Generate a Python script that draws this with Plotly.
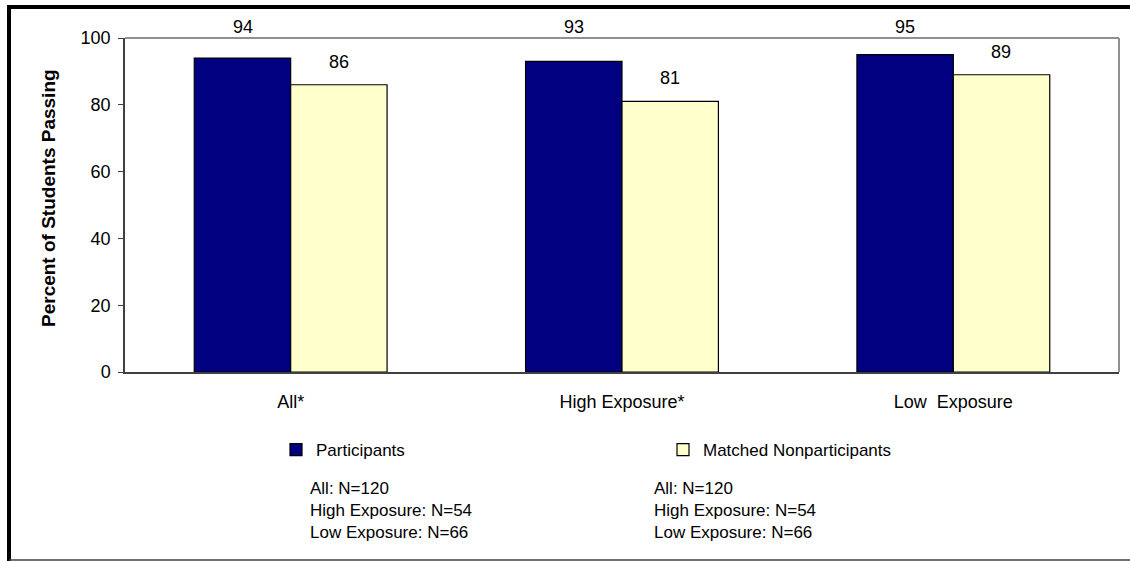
import plotly.graph_objects as go

categories = ["All*", "High Exposure*", "Low  Exposure"]
participants = [94, 93, 95]
nonparticipants = [86, 81, 89]
y_ticks = [0, 20, 40, 60, 80, 100]
n_lines = ["All: N=120", "High Exposure: N=54", "Low Exposure: N=66"]

FONT = "Arial, Liberation Sans, sans-serif"

W, H = 1130, 561
ML, MR, MT, MB = 125, 11, 38, 189
PW = W - ML - MR
PH = H - MT - MB


def px_x(v):
    return (v - ML) / PW


def px_y(v):
    return (H - MB - v) / PH


fig = go.Figure()

fig.add_trace(go.Bar(
    x=categories, y=participants, name="Participants",
    marker=dict(color="#000080", line=dict(color="black", width=1.2)),
))
fig.add_trace(go.Bar(
    x=categories, y=nonparticipants, name="Matched Nonparticipants",
    marker=dict(color="#FFFFCC", line=dict(color="black", width=1.2)),
))

# data labels; participant labels sit in a row just above the chart area
for cat, v in zip(categories, participants):
    top_px = MT + (100 - v) * PH / 100
    fig.add_annotation(
        x=cat, y=v, xref="x", yref="y", text=str(v), showarrow=False,
        xshift=-48, yshift=top_px - 27, yanchor="middle",
        font=dict(size=18, family=FONT, color="black"),
    )
for cat, v in zip(categories, nonparticipants):
    fig.add_annotation(
        x=cat, y=v, xref="x", yref="y", text=str(v), showarrow=False,
        xshift=48, yshift=23, yanchor="middle",
        font=dict(size=18, family=FONT, color="black"),
    )

fig.update_layout(
    width=W, height=H,
    margin=dict(l=ML, r=MR, t=MT, b=MB),
    paper_bgcolor="white", plot_bgcolor="white",
    barmode="group", bargap=0.418, bargroupgap=0,
    font=dict(family=FONT, size=18, color="black"),
    showlegend=True,
    legend=dict(
        orientation="h", x=px_x(276), y=px_y(432), xanchor="left", yanchor="top",
        entrywidth=342, entrywidthmode="pixels",
        font=dict(size=17, family=FONT),
        traceorder="normal",
    ),
)

fig.update_xaxes(
    showline=True, linecolor="#404040", linewidth=1.5,
    ticks="", tickfont=dict(size=18), ticklabelstandoff=13,
)
fig.update_yaxes(
    range=[0, 100], tickvals=y_ticks, showgrid=False,
    showline=True, linecolor="#404040", linewidth=1.5,
    ticks="outside", ticklen=5, tickcolor="#404040",
    tickfont=dict(size=18), ticklabelstandoff=4,
)

# y axis title
fig.add_annotation(
    xref="paper", yref="paper", x=px_x(48), y=px_y(198), textangle=-90,
    xanchor="center", yanchor="middle",
    text="<b>Percent of Students Passing</b>", showarrow=False,
    font=dict(size=19, family=FONT, color="black"),
)

# gray frame on top and right of plot area
fig.add_shape(type="line", xref="paper", yref="paper", x0=0, x1=1, y0=1, y1=1,
              line=dict(color="#909090", width=2))
fig.add_shape(type="line", xref="paper", yref="paper", x0=1, x1=1, y0=0, y1=1,
              line=dict(color="#909090", width=2))

# N annotations under each legend entry
for left in [308, 652]:
    fig.add_annotation(
        xref="paper", yref="paper", x=px_x(left), y=px_y(477),
        xanchor="left", yanchor="top",
        text="<br>".join(n_lines), showarrow=False, align="left",
        font=dict(size=17, family=FONT),
    )

# outer border: thick black left and top, thin gray bottom
fig.add_shape(type="line", xref="paper", yref="paper",
              x0=px_x(9), x1=px_x(9), y0=px_y(5), y1=px_y(561),
              line=dict(color="black", width=4))
fig.add_shape(type="line", xref="paper", yref="paper",
              x0=px_x(7), x1=px_x(1130), y0=px_y(7), y1=px_y(7),
              line=dict(color="black", width=4))
fig.add_shape(type="line", xref="paper", yref="paper",
              x0=px_x(9), x1=px_x(1130), y0=px_y(560), y1=px_y(560),
              line=dict(color="#404040", width=1.5))

fig.write_html("out.html", config={"displayModeBar": False},
               post_script="document.body.style.margin='0';")
